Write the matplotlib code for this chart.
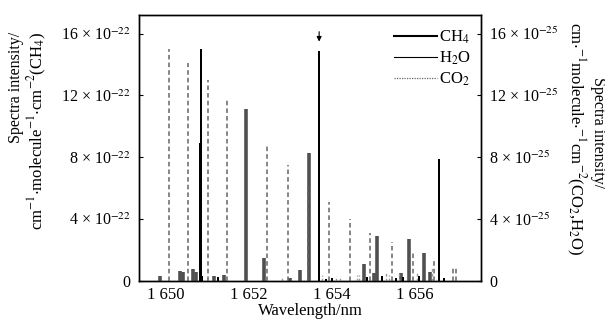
import numpy as np
import matplotlib
matplotlib.use("Agg")
import matplotlib.pyplot as plt
from matplotlib.lines import Line2D

plt.rcParams['font.family'] = ['Liberation Serif', 'DejaVu Serif']
plt.rcParams['mathtext.fontset'] = 'stix'

# CH4 lines, intensity in 1e-22 (left axis)
ch4_x = [1650.81, 1650.84, 1653.69, 1656.58,
         1650.87, 1651.25, 1653.85, 1654.00, 1654.85, 1655.20,
         1655.55, 1655.70, 1656.10, 1656.70]
ch4_y = [8.9, 15.0, 14.9, 7.9,
         0.3, 0.25, 0.15, 0.2, 0.25, 0.3,
         0.2, 0.25, 0.3, 0.2]

# H2O lines, intensity in 1e-25 (right axis)
h2o_x = [1649.86, 1650.34, 1650.41, 1650.65, 1650.72, 1651.15, 1651.40,
         1651.93, 1652.36, 1653.00, 1653.23, 1653.45, 1654.77, 1655.00,
         1655.08, 1655.66, 1655.86, 1656.22, 1656.36]
h2o_y = [0.3, 0.65, 0.6, 0.75, 0.6, 0.3, 0.4,
         11.1, 1.5, 0.2, 0.7, 8.3, 1.1, 0.5,
         2.9, 0.5, 2.7, 1.8, 0.6]

# CO2 lines, intensity in 1e-25 (right axis)
co2_x = [1650.07, 1650.53, 1651.01, 1651.47, 1652.43, 1652.94, 1653.42,
         1653.93, 1654.43, 1654.92, 1655.45, 1655.95, 1656.46, 1656.92, 1656.99]
co2_y = [15.0, 14.1, 13.0, 11.7, 8.8, 7.5, 6.1,
         5.1, 4.0, 3.1, 2.5, 1.9, 1.5, 0.9, 0.9]
# weak CO2 lines
co2w_x = [1652.80, 1653.75, 1654.10, 1654.20, 1654.60, 1654.65,
          1655.30, 1655.38, 1655.62, 1656.05, 1656.40]
co2w_y = [0.3, 0.4, 0.3, 0.3, 0.4, 0.4, 0.5, 0.4, 0.6, 0.5, 0.9]

yticks = [0, 4, 8, 12, 16]
xticks = [1650, 1652, 1654, 1656]
xlabels = ['1 650', '1 652', '1 654', '1 656']

fig = plt.figure(figsize=(6.05, 3.26), dpi=100)
ax = fig.add_axes([139/605, 45/326, 342/605, 266/326])
ax2 = ax.twinx()

ax.vlines(ch4_x, 0, ch4_y, color='black', lw=1.4, zorder=3)
ax2.vlines(h2o_x, 0, h2o_y, color='#505050', lw=2.6)
ax2.vlines(co2_x, 0, co2_y, color='#666666', lw=1.1, linestyles=(0, (3, 2)))
ax2.vlines(co2w_x, 0, co2w_y, color='#999999', lw=1.0, linestyles=(0, (2, 1.5)))
ax2.vlines(ch4_x, 0, ch4_y, color='black', lw=1.4)

ax2.annotate('', xy=(1653.69, 15.3), xytext=(1653.69, 16.3),
             arrowprops=dict(arrowstyle='-|>', color='black', lw=0.8,
                             mutation_scale=7))

for a in (ax, ax2):
    a.set_xlim(1649.35, 1657.59)
    a.set_ylim(0, 17.2)
    a.set_yticks(yticks)
    a.tick_params(axis='y', direction='in', length=3, labelsize=11.5, pad=6)
    for s in a.spines.values():
        s.set_linewidth(1.0)

ax.set_yticklabels(['0'] + ['%d × 10$^{-22}$' % t for t in yticks[1:]])
ax2.set_yticklabels(['0'] + ['%d × 10$^{-25}$' % t for t in yticks[1:]])
ax.set_xticks(xticks)
ax.set_xticklabels(xlabels)
ax.tick_params(axis='x', length=0, labelsize=12, pad=4)
ax.set_xlabel('Wavelength/nm', fontsize=12, labelpad=0)

fig.text(16/605, 1 - 32/326, 'Spectra intensity/', rotation=90,
         ha='center', va='top', fontsize=11.5)
fig.text(37/605, 1 - 32/326,
         r'cm$^{-1}$$\cdot$molecule$^{-1}$$\cdot$cm$^{-2}$(CH$_4$)',
         rotation=90, ha='center', va='top', fontsize=12)
fig.text(598/605, 1 - 77/326, 'Spectra intensity/', rotation=-90,
         ha='center', va='top', fontsize=11.5)
fig.text(576/605, 1 - 22/326,
         r'cm$\cdot^{-1}$molecule$\cdot^{-1}$cm$^{-2}$(CO$_2$,H$_2$O)',
         rotation=-90, ha='center', va='top', fontsize=12)

handles = [Line2D([], [], color='black', lw=1.5),
           Line2D([], [], color='black', lw=0.8),
           Line2D([], [], color='#666666', lw=0.9, linestyle=(0, (1, 1)))]
ax2.legend(handles, ['CH$_4$', 'H$_2$O', 'CO$_2$'], loc='upper right',
           frameon=False, fontsize=12, handlelength=2.6, handletextpad=0.1,
           labelspacing=0.2, borderaxespad=0.2, bbox_to_anchor=(1.0, 0.985))

fig.savefig('out.png', dpi=100)
